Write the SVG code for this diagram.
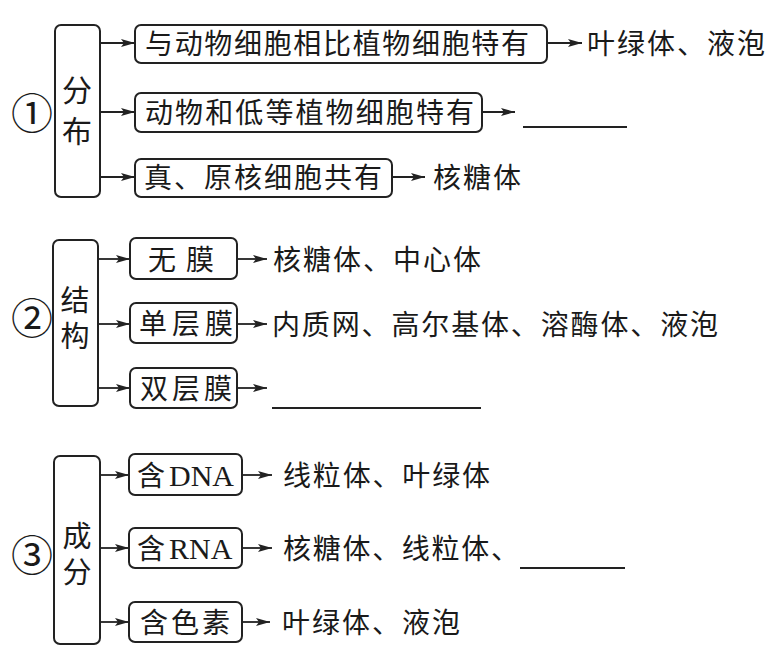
<svg xmlns="http://www.w3.org/2000/svg" width="774" height="659" viewBox="0 0 774 659">
<defs>
<marker id="ah" viewBox="0 0 14 8" refX="14" refY="4" markerWidth="14" markerHeight="8" markerUnits="userSpaceOnUse" orient="auto">
<path d="M0,0 L14,4 L0,8 L3,4 Z" fill="#222"/>
</marker>
<style>
.box{fill:#fff;stroke:#222;stroke-width:2}
.t{font-family:"Noto Sans CJK SC","Noto Sans",sans-serif;font-size:28px;fill:#1a1a1a}
.v{font-family:"Noto Sans CJK SC","Noto Sans",sans-serif;font-size:29px;fill:#1a1a1a;writing-mode:vertical-rl;letter-spacing:7px}
.n{font-family:"Noto Sans CJK SC","DejaVu Sans",sans-serif;font-size:42px;fill:#1a1a1a;text-anchor:middle}
.lat{font-family:"Liberation Serif",serif}
.ar{stroke:#222;stroke-width:1.8;fill:none;marker-end:url(#ah)}
.ul{stroke:#222;stroke-width:1.8}
</style>
</defs>
<rect width="774" height="659" fill="#fff"/>

<g id="connectors">
<line class="ar" x1="100" y1="43" x2="135" y2="43"/>
<line class="ar" x1="100" y1="112" x2="135" y2="112"/>
<line class="ar" x1="100" y1="177" x2="135" y2="177"/>
<line class="ar" x1="547" y1="43" x2="582" y2="43"/>
<line class="ar" x1="482" y1="112" x2="515" y2="112"/>
<line class="ar" x1="392" y1="177" x2="425" y2="177"/>
<line class="ar" x1="98" y1="259" x2="130" y2="259"/>
<line class="ar" x1="98" y1="324" x2="130" y2="324"/>
<line class="ar" x1="98" y1="388" x2="130" y2="388"/>
<line class="ar" x1="237" y1="259" x2="267" y2="259"/>
<line class="ar" x1="237" y1="324" x2="267" y2="324"/>
<line class="ar" x1="237" y1="388" x2="267" y2="388"/>
<line class="ar" x1="100" y1="475" x2="129" y2="475"/>
<line class="ar" x1="100" y1="548" x2="129" y2="548"/>
<line class="ar" x1="100" y1="622" x2="129" y2="622"/>
<line class="ar" x1="242" y1="475" x2="272" y2="475"/>
<line class="ar" x1="242" y1="548" x2="272" y2="548"/>
<line class="ar" x1="242" y1="622" x2="270" y2="622"/>
</g>

<g id="group1">
<text class="n" x="32" y="129">①</text>
<g id="fenbu"><rect class="box" x="55" y="25" width="45" height="172" rx="6"/>
<text class="v" x="77" y="75" style="font-size:30px;letter-spacing:11px">分布</text></g>
<g id="n1"><rect class="box" x="135" y="25" width="412" height="38" rx="6"/>
<text class="t" x="145" y="54" textLength="384" lengthAdjust="spacing">与动物细胞相比植物细胞特有</text></g>
<g id="n2"><rect class="box" x="135" y="93" width="347" height="39" rx="6"/>
<text class="t" x="145" y="123" textLength="329" lengthAdjust="spacing">动物和低等植物细胞特有</text></g>
<g id="n3"><rect class="box" x="135" y="159" width="257" height="38" rx="6"/>
<text class="t" x="144" y="188" textLength="238" lengthAdjust="spacing">真、原核细胞共有</text></g>
<g id="r1"><text class="t" x="587" y="54" textLength="178" lengthAdjust="spacing">叶绿体、液泡</text></g>
<g id="r2"><line class="ul" x1="523" y1="127" x2="627" y2="127"/></g>
<g id="r3"><text class="t" x="433" y="188" textLength="88" lengthAdjust="spacing">核糖体</text></g>
</g>

<g id="group2">
<text class="n" x="32" y="334">②</text>
<g id="jiegou"><rect class="box" x="53" y="240" width="45" height="166" rx="6"/>
<text class="v" x="75" y="285">结构</text></g>
<g id="n4"><rect class="box" x="130" y="238" width="107" height="41" rx="6"/>
<text class="t" x="148" y="270" textLength="66" lengthAdjust="spacing">无 膜</text></g>
<g id="n5"><rect class="box" x="130" y="303" width="107" height="40" rx="6"/>
<text class="t" x="139" y="334" textLength="94" lengthAdjust="spacing">单层膜</text></g>
<g id="n6"><rect class="box" x="130" y="368" width="107" height="40" rx="6"/>
<text class="t" x="140" y="399" textLength="92" lengthAdjust="spacing">双层膜</text></g>
<g id="r4"><text class="t" x="273" y="270" textLength="208" lengthAdjust="spacing">核糖体、中心体</text></g>
<g id="r5"><text class="t" x="272" y="335" textLength="446" lengthAdjust="spacing">内质网、高尔基体、溶酶体、液泡</text></g>
<g id="r6"><line class="ul" x1="272" y1="408" x2="481" y2="408"/></g>
</g>

<g id="group3">
<text class="n" x="32" y="571">③</text>
<g id="chengfen"><rect class="box" x="54" y="456" width="46" height="188" rx="6"/>
<text class="v" x="77" y="521">成分</text></g>
<g id="n7"><rect class="box" x="129" y="454" width="113" height="41" rx="6"/>
<text class="t" x="137" y="486">含<tspan class="lat" x="169" font-size="30">DNA</tspan></text></g>
<g id="n8"><rect class="box" x="129" y="528" width="113" height="40" rx="6"/>
<text class="t" x="137" y="559">含<tspan class="lat" x="169" font-size="30">RNA</tspan></text></g>
<g id="n9"><rect class="box" x="129" y="602" width="113" height="40" rx="6"/>
<text class="t" x="140" y="633" textLength="90" lengthAdjust="spacing">含色素</text></g>
<g id="r7"><text class="t" x="283" y="486" textLength="207" lengthAdjust="spacing">线粒体、叶绿体</text></g>
<g id="r8"><text class="t" x="283" y="559" textLength="236" lengthAdjust="spacing">核糖体、线粒体、</text>
<line class="ul" x1="520" y1="568" x2="625" y2="568"/></g>
<g id="r9"><text class="t" x="282" y="633" textLength="178" lengthAdjust="spacing">叶绿体、液泡</text></g>
</g>
</svg>
